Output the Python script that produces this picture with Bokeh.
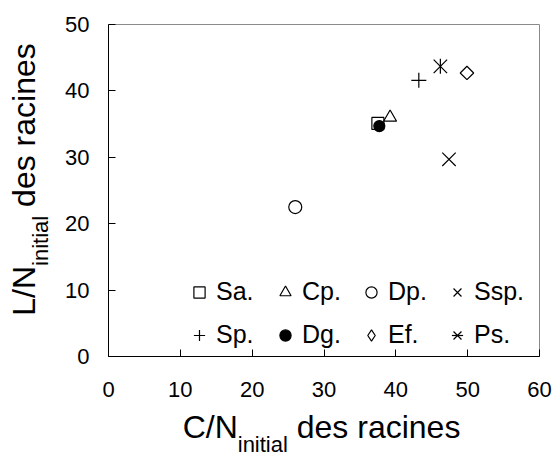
import math
from bokeh.plotting import figure
from bokeh.models import Legend, LegendItem, Label, FixedTicker, Range1d
from bokeh.layouts import row, column
from bokeh.embed import file_html
from bokeh.resources import INLINE

# ---- data ----
species = ["Sa.", "Cp.", "Dp.", "Ssp.", "Sp.", "Dg.", "Ef.", "Ps."]
cn_initial = [37.5, 39.2, 26.0, 47.4, 43.2, 37.7, 49.9, 46.2]
ln_initial = [35.1, 36.0, 22.5, 29.7, 41.6, 34.7, 42.7, 43.7]
x_ticks = [0, 10, 20, 30, 40, 50, 60]
y_ticks = [0, 10, 20, 30, 40, 50]

# ---- marker styles: (marker, size, angle, fill) ----
styles = {
    "Sa.": [("square", 12, 0, None)],
    "Cp.": [("triangle", 13, 0, None)],
    "Dp.": [("circle", 13, 0, None)],
    "Ssp.": [("x", 19, 0, None)],
    "Sp.": [("cross", 15, 0, None)],
    "Dg.": [("circle", 11, 0, "black")],
    "Ef.": [("square", 9.5, math.pi / 4, None)],
    "Ps.": [("x", 19, 0, None), ("dash", 15, math.pi / 2, None)],
}

FONT = "Liberation Sans"
Y_TITLE_W = 52
X_TITLE_H = 46
TOTAL_W, TOTAL_H = 557, 456

p = figure(width=TOTAL_W - Y_TITLE_W, height=TOTAL_H - X_TITLE_H,
           output_backend="svg", toolbar_location=None,
           x_range=Range1d(0, 60), y_range=Range1d(0, 50),
           min_border_left=108 - Y_TITLE_W, min_border_right=18,
           min_border_top=24, min_border_bottom=TOTAL_H - X_TITLE_H - 356)
p.extra_x_ranges = {"legend_only": Range1d(1000, 1060)}
p.xgrid.visible = False
p.ygrid.visible = False
p.outline_line_color = "#8a8a8a"
p.outline_line_width = 1
p.background_fill_color = "white"
p.border_fill_color = "white"

for ax, ticks, standoff in ((p.xaxis, x_ticks, 25), (p.yaxis, y_ticks, 19)):
    ax.ticker = FixedTicker(ticks=ticks)
    ax.major_tick_in = 7
    ax.major_tick_out = 0
    ax.minor_tick_line_color = None
    ax.axis_line_color = "black"
    ax.major_tick_line_color = "black"
    ax.major_label_text_font = FONT
    ax.major_label_text_font_size = "22px"
    ax.major_label_text_color = "black"
    ax.major_label_standoff = standoff

order = ["Sa.", "Cp.", "Dp.", "Ssp.", "Sp.", "Ef.", "Ps.", "Dg."]
renderers = {}
for name in order:
    i = species.index(name)
    rs = []
    for marker, size, angle, fill in styles[name]:
        r = p.scatter(x=[cn_initial[i]], y=[ln_initial[i]], marker=marker, size=size,
                      angle=angle, line_color="black", line_width=1.2,
                      fill_color=fill if fill else None)
        rs.append(r)
    renderers[name] = rs

# legend swatch for the diamond (the legend does not rotate markers);
# drawn against a range that keeps it out of the plot area
i_ef = species.index("Ef.")
ef_swatch = p.scatter(x=[cn_initial[i_ef]], y=[ln_initial[i_ef]], marker="diamond",
                      size=12, line_color="black", line_width=1.2, fill_color=None,
                      x_range_name="legend_only")
legend_renderers = dict(renderers)
legend_renderers["Ef."] = [ef_swatch]

items = [LegendItem(label=name, renderers=legend_renderers[name]) for name in species]
legend = Legend(items=items, ncols=4, orientation="horizontal",
                location=(77, 7), glyph_width=28, glyph_height=28,
                label_standoff=3, label_width=41, spacing=14, padding=0, margin=0,
                label_text_font=FONT, label_text_font_size="25px",
                label_text_color="black",
                border_line_color=None, background_fill_alpha=0)
p.add_layout(legend, "center")


def title_fig(w, h):
    f = figure(width=w, height=h, output_backend="svg", toolbar_location=None,
               x_range=Range1d(0, 1), y_range=Range1d(0, 1),
               x_axis_location=None, y_axis_location=None,
               min_border=0, min_border_left=0, min_border_right=0,
               min_border_top=0, min_border_bottom=0)
    f.xgrid.visible = False
    f.ygrid.visible = False
    f.outline_line_color = None
    f.background_fill_color = "white"
    f.border_fill_color = "white"
    return f


def add_label(f, x, y, text, size, angle=0.0):
    f.add_layout(Label(x=x, y=y, x_units="screen", y_units="screen", text=text,
                       text_font=FONT, text_font_size=size, text_color="black",
                       text_baseline="alphabetic", text_align="left", angle=angle))


MAIN, SUB = 32, 22
w_main_x = 1.722 * MAIN
w_main_y = 1.556 * MAIN
w_sub = 2.278 * SUB
w_space = 0.278 * MAIN

# y-axis title (rotated), in its own strip left of the plot
fy = title_fig(Y_TITLE_W, TOTAL_H - X_TITLE_H)
total_y = w_main_y + w_sub + w_space + 5.113 * MAIN
y0 = (TOTAL_H - X_TITLE_H - 176) - total_y / 2 - 57
add_label(fy, 23.5, y0, "L/N", f"{MAIN}px", math.pi / 2)
add_label(fy, 40, y0 + w_main_y, "initial", f"{SUB}px", math.pi / 2)
add_label(fy, 23.5, y0 + w_main_y + w_sub + w_space, "des racines", f"{MAIN}px", math.pi / 2)

# x-axis title, in its own strip below the plot
fx = title_fig(TOTAL_W, X_TITLE_H)
total_x = w_main_x + w_sub + w_space + 5.113 * MAIN
x0 = 321 - total_x / 2
add_label(fx, x0, 30, "C/N", f"{MAIN}px")
add_label(fx, x0 + w_main_x, 12, "initial", f"{SUB}px")
add_label(fx, x0 + w_main_x + w_sub + w_space, 30, "des racines", f"{MAIN}px")

layout = column(row(fy, p, spacing=0), fx, spacing=0)

open("out.html", "w").write(file_html(layout, INLINE))
